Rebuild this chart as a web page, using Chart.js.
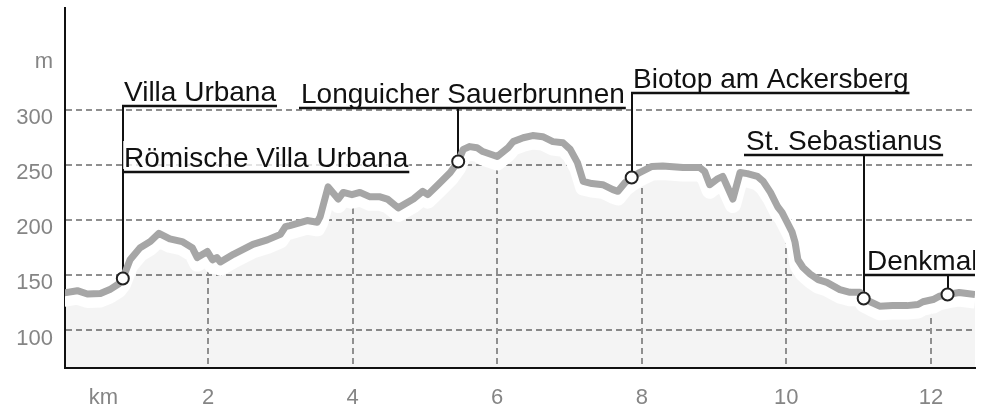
<!DOCTYPE html>
<html>
<head>
<meta charset="utf-8">
<script src="https://cdn.jsdelivr.net/npm/chart.js@4.4.1/dist/chart.umd.min.js"></script>
<style>
  html, body { margin: 0; padding: 0; background: #fff; }
  canvas { display: block; }
</style>
</head>
<body>
<canvas id="profile" width="989" height="408"></canvas>
<script>
const distKm = [
    0.00, 0.19, 0.33, 0.51, 0.64, 0.76, 0.82, 0.92, 1.06, 1.20,
    1.32, 1.47, 1.64, 1.78, 1.85, 1.99, 2.06, 2.12, 2.17, 2.35,
    2.62, 2.82, 3.00, 3.07, 3.13, 3.37, 3.51, 3.55, 3.66, 3.80,
    3.87, 3.99, 4.10, 4.24, 4.38, 4.48, 4.63, 4.84, 4.97, 5.04,
    5.18, 5.35, 5.46, 5.53, 5.62, 5.72, 5.80, 6.00, 6.15, 6.22,
    6.36, 6.49, 6.63, 6.77, 6.91, 7.01, 7.11, 7.19, 7.31, 7.46,
    7.60, 7.67, 7.77, 7.86, 7.97, 8.14, 8.29, 8.57, 8.80, 8.87,
    8.94, 9.04, 9.12, 9.26, 9.36, 9.46, 9.60, 9.68, 9.78, 9.88,
    9.94, 10.01, 10.08, 10.12, 10.16, 10.23, 10.33, 10.44, 10.56, 10.74,
    10.88, 11.02, 11.07, 11.16, 11.29, 11.47, 11.67, 11.82, 11.89, 12.03,
    12.12, 12.23, 12.39, 12.50, 12.61
];
const elevM = [
    134, 136, 133, 133.5, 137, 142, 147, 164, 175, 180.5,
    188, 183, 180.5, 175, 166, 171.5, 164, 166, 162, 169,
    178, 182, 187, 194, 195, 199.5, 198, 203, 230, 219,
    225, 223, 225, 221, 221, 219, 211, 219, 226, 223,
    232, 243, 253, 264, 266.5, 265.5, 262, 257.5, 265.5, 271,
    274.5, 276.5, 275.5, 271, 270, 264, 252, 235, 233, 232,
    227.5, 226, 234, 238.5, 243, 248.5, 249, 247.5, 247.5, 244,
    232, 237, 239.5, 219, 243, 242, 239.5, 235, 225, 212,
    207, 198, 189, 180, 164, 157, 151, 146, 143.5, 137,
    134.5, 134.5, 129, 126, 122, 122.5, 122.5, 123.5, 126, 128,
    131, 132.6, 134.4, 133.5, 132.6
];

// points of interest on the route
const poiKm = [0.82, 5.46, 7.86, 11.07, 12.23];
const poiElev = [147, 253, 238.5, 129, 132.6];

// labels, each one tied to a point of interest
const labelText = [
    "Villa Urbana", "Römische Villa Urbana", "Longuicher Sauerbrunnen",
    "Biotop am Ackersberg", "St. Sebastianus", "Denkmal"
];
const labelPoi = [0, 0, 1, 2, 3, 4];

// where the underline of each label sits (km / m)
const labelStartKm = [0.82, 0.82, 3.27, 7.86, 9.43, 11.10];
const labelLineElev = [303.6, 243.9, 301.8, 315.4, 259.3, 149.8];

const xTickValues = [0.55, 2, 4, 6, 8, 10, 12];
const xTickLabels = ["km", "2", "4", "6", "8", "10", "12"];
const yTickValues = [100, 150, 200, 250, 300, 350];
const yTickLabels = ["100", "150", "200", "250", "300", "m"];

const FONT = "'Liberation Sans', Arial, sans-serif";
const GRID = "#8f8f8f";

const profilePoints = distKm.map((d, i) => ({ x: d, y: elevM[i] }));
const poiPoints = poiKm.map((d, i) => ({ x: d, y: poiElev[i] }));

function tracePath(ctx, pts) {
    ctx.beginPath();
    pts.forEach((p, i) => i ? ctx.lineTo(p.x, p.y) : ctx.moveTo(p.x, p.y));
}

function noPadding(s) {
    s.paddingTop = 0;
    s.paddingBottom = 0;
    s.paddingLeft = 0;
    s.paddingRight = 0;
}

const underlay = {
    id: "underlay",
    beforeDatasetsDraw(chart) {
        const { ctx, chartArea: a, scales } = chart;
        const pts = chart.getDatasetMeta(1).data;

        ctx.save();
        ctx.beginPath();
        ctx.rect(a.left, a.top, a.right - a.left, a.bottom - a.top);
        ctx.clip();

        // light area below the profile
        tracePath(ctx, pts);
        ctx.lineTo(pts[pts.length - 1].x, a.bottom);
        ctx.lineTo(pts[0].x, a.bottom);
        ctx.closePath();
        ctx.fillStyle = "rgba(0,0,0,0.045)";
        ctx.fill();

        // vertical grid only inside the area
        ctx.save();
        ctx.clip();
        ctx.strokeStyle = GRID;
        ctx.lineWidth = 2;
        ctx.setLineDash([6, 4]);
        xTickValues.forEach((v, i) => {
            if (xTickLabels[i] === "km") return;
            const x = Math.round(scales.x.getPixelForValue(v));
            ctx.beginPath();
            ctx.moveTo(x, a.top);
            ctx.lineTo(x, a.bottom);
            ctx.stroke();
        });
        ctx.restore();

        // white halo under the line
        ctx.translate(0, 6);
        tracePath(ctx, pts);
        ctx.strokeStyle = "#fff";
        ctx.lineWidth = 16;
        ctx.lineJoin = "round";
        ctx.stroke();
        ctx.restore();

        // leader lines from the labels down to the markers
        ctx.save();
        ctx.strokeStyle = "#111";
        ctx.lineWidth = 2;
        labelText.forEach((t, i) => {
            const p = labelPoi[i];
            const x = Math.round(scales.x.getPixelForValue(poiKm[p]));
            const y1 = scales.y.getPixelForValue(labelLineElev[i]);
            const y2 = scales.y.getPixelForValue(poiElev[p]);
            ctx.beginPath();
            ctx.moveTo(x, y1);
            ctx.lineTo(x, y2);
            ctx.stroke();
        });
        ctx.restore();
    },
    afterDatasetsDraw(chart) {
        const { ctx, chartArea: a, scales } = chart;
        ctx.save();
        ctx.beginPath();
        ctx.rect(a.left, 0, a.right - a.left, chart.height);
        ctx.clip();
        ctx.font = "28px " + FONT;
        ctx.textBaseline = "alphabetic";
        labelText.forEach((t, i) => {
            const sx = Math.round(scales.x.getPixelForValue(labelStartKm[i]));
            const uy = Math.round(scales.y.getPixelForValue(labelLineElev[i]));
            const w = ctx.measureText(t).width;
            ctx.fillStyle = "rgba(255,255,255,0.75)";
            ctx.fillRect(sx, uy - 31, w + 2, 28);
            ctx.fillStyle = "#111";
            ctx.fillText(t, sx + 1, uy - 5);
            ctx.strokeStyle = "#111";
            ctx.lineWidth = 2.5;
            ctx.beginPath();
            ctx.moveTo(sx - 1, uy);
            ctx.lineTo(sx + w + 2, uy);
            ctx.stroke();
        });
        ctx.restore();
    }
};

new Chart(document.getElementById("profile"), {
    type: "line",
    data: {
        datasets: [
            {
                label: "poi",
                data: poiPoints,
                showLine: false,
                pointRadius: 6,
                pointBackgroundColor: "#fff",
                pointBorderColor: "#222",
                pointBorderWidth: 2
            },
            {
                label: "profile",
                data: profilePoints,
                borderColor: "#a6a6a6",
                borderWidth: 7,
                borderJoinStyle: "round",
                pointRadius: 0,
                tension: 0,
                fill: false
            }
        ]
    },
    options: {
        responsive: false,
        animation: false,
        devicePixelRatio: 1,
        layout: { padding: { left: 0, right: 14, top: 8, bottom: 0 } },
        plugins: { legend: { display: false }, tooltip: { enabled: false } },
        scales: {
            x: {
                type: "linear",
                min: 0.02,
                max: 12.61,
                afterBuildTicks: s => { s.ticks = xTickValues.map(v => ({ value: v })); },
                afterFit: s => { s.height = 40; noPadding(s); },
                ticks: {
                    callback: (v, i) => xTickLabels[i],
                    autoSkip: false,
                    maxRotation: 0,
                    padding: 17,
                    color: "#858585",
                    font: { family: FONT, size: 22 }
                },
                grid: { display: false, drawTicks: false },
                border: { display: true, color: "#111", width: 2 }
            },
            y: {
                type: "linear",
                min: 66,
                max: 392,
                afterBuildTicks: s => { s.ticks = yTickValues.map(v => ({ value: v })); },
                afterFit: s => { s.width = 65; noPadding(s); },
                ticks: {
                    callback: (v, i) => yTickLabels[i],
                    padding: 12,
                    labelOffset: 8,
                    color: "#858585",
                    font: { family: FONT, size: 22 }
                },
                grid: {
                    drawTicks: false,
                    lineWidth: 2,
                    color: c => c.tick && c.tick.value === 350 ? "rgba(0,0,0,0)" : GRID
                },
                border: { display: true, color: "#111", width: 2, dash: [6, 4] }
            }
        }
    },
    plugins: [underlay]
});
</script>
</body>
</html>
